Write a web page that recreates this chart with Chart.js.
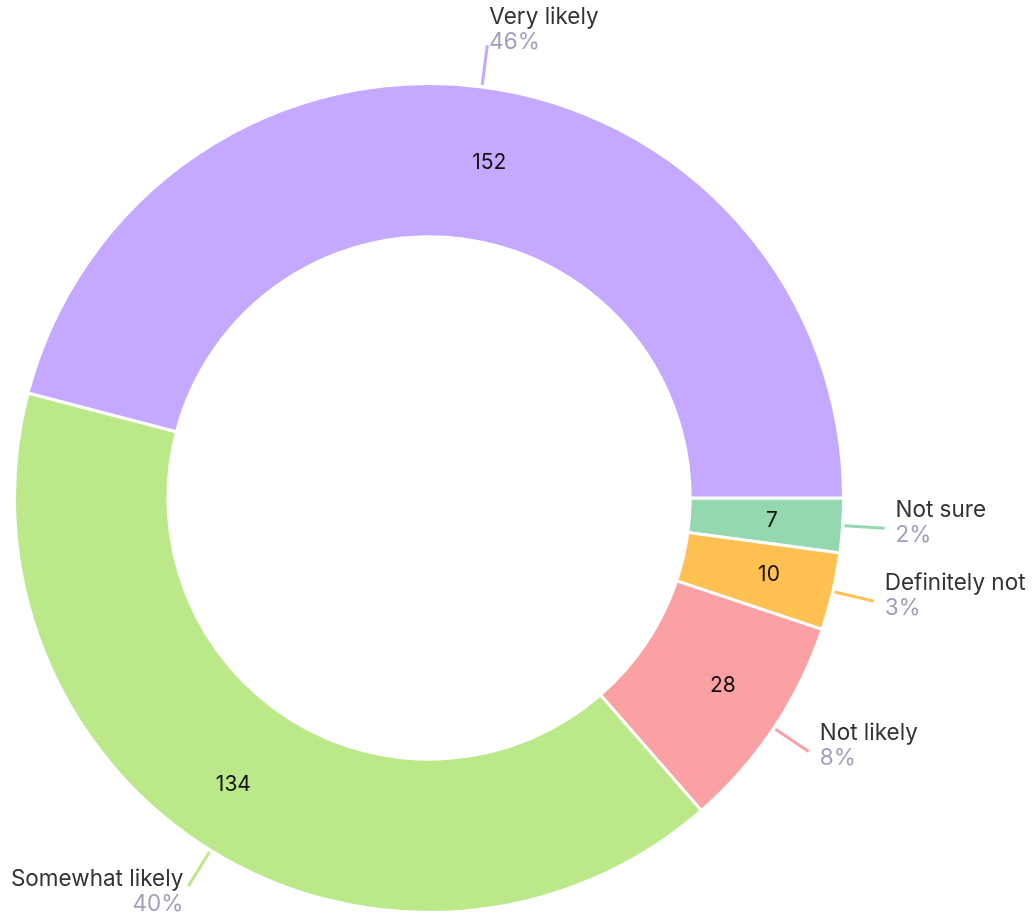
<!DOCTYPE html>
<html>
<head>
<meta charset="utf-8">
<script src="https://cdn.jsdelivr.net/npm/chart.js@4"></script>
<style>
    html, body { margin: 0; padding: 0; background: #ffffff; }
    #wrap { width: 1035px; height: 916px; }
</style>
</head>
<body>
<div id="wrap"><canvas id="surveyChart"></canvas></div>
<script>
// Data (clockwise from 3 o'clock)
const categories = ['Not sure', 'Definitely not', 'Not likely', 'Somewhat likely', 'Very likely'];
const counts = [7, 10, 28, 134, 152];
const sliceColors = ['#93d8ae', '#ffc052', '#fca1a3', '#bbe888', '#c5a8ff'];

const FONT = 'Inter, "Noto Sans", sans-serif';

// Draws the value inside each slice and the name/percent outside with a leader line
const sliceLabels = {
    id: 'sliceLabels',
    afterDatasetsDraw(chart) {
        const ctx = chart.ctx;
        const meta = chart.getDatasetMeta(0);
        const total = counts.reduce((a, b) => a + b, 0);

        meta.data.forEach((arc, i) => {
            const p = arc.getProps(['x', 'y', 'startAngle', 'endAngle', 'innerRadius', 'outerRadius'], true);
            const mid = (p.startAngle + p.endAngle) / 2;
            const cos = Math.cos(mid);
            const sin = Math.sin(mid);

            // value inside
            const rMid = (p.innerRadius + p.outerRadius) / 2;
            ctx.save();
            ctx.font = '21px ' + FONT;
            ctx.fillStyle = '#111111';
            ctx.textBaseline = 'middle';
            ctx.textAlign = cos >= 0 ? 'left' : 'right';
            ctx.fillText(String(counts[i]), p.x + rMid * cos, p.y + rMid * sin);

            // leader line
            const r0 = p.outerRadius + 2;
            const r1 = p.outerRadius + 42;
            const x0 = p.x + r0 * cos, y0 = p.y + r0 * sin;
            const x1 = p.x + r1 * cos, y1 = p.y + r1 * sin;
            ctx.strokeStyle = sliceColors[i];
            ctx.lineWidth = 3;
            ctx.beginPath();
            ctx.moveTo(x0, y0);
            ctx.lineTo(x1, y1);
            ctx.stroke();

            // name + percent
            const pct = Math.round(counts[i] / total * 100) + '%';
            let tx, ty;
            if (sin < -0.9) {
                ctx.textAlign = 'left';
                tx = x1 + 2;
                ty = y1 - 28;
            } else if (cos >= 0) {
                ctx.textAlign = 'left';
                tx = x1 + 11;
                ty = y1 - 18;
            } else {
                ctx.textAlign = 'right';
                tx = x1 - 5;
                ty = y1 - 7;
            }
            ctx.textBaseline = 'middle';
            ctx.font = '22.5px ' + FONT;
            ctx.fillStyle = '#333333';
            ctx.fillText(categories[i], tx, ty);
            ctx.fillStyle = '#9f9fbb';
            ctx.fillText(pct, tx, ty + 25);
            ctx.restore();
        });
    }
};

new Chart(document.getElementById('surveyChart'), {
    type: 'doughnut',
    data: {
        labels: categories,
        datasets: [{
            data: counts,
            backgroundColor: sliceColors,
            borderColor: '#ffffff',
            borderWidth: 3
        }]
    },
    options: {
        responsive: true,
        maintainAspectRatio: false,
        animation: false,
        rotation: 90,
        cutout: '63%',
        layout: {
            padding: { left: 12, right: 189, top: 82, bottom: 2 }
        },
        plugins: {
            legend: { display: false },
            tooltip: { enabled: false }
        }
    },
    plugins: [sliceLabels]
});
</script>
</body>
</html>
